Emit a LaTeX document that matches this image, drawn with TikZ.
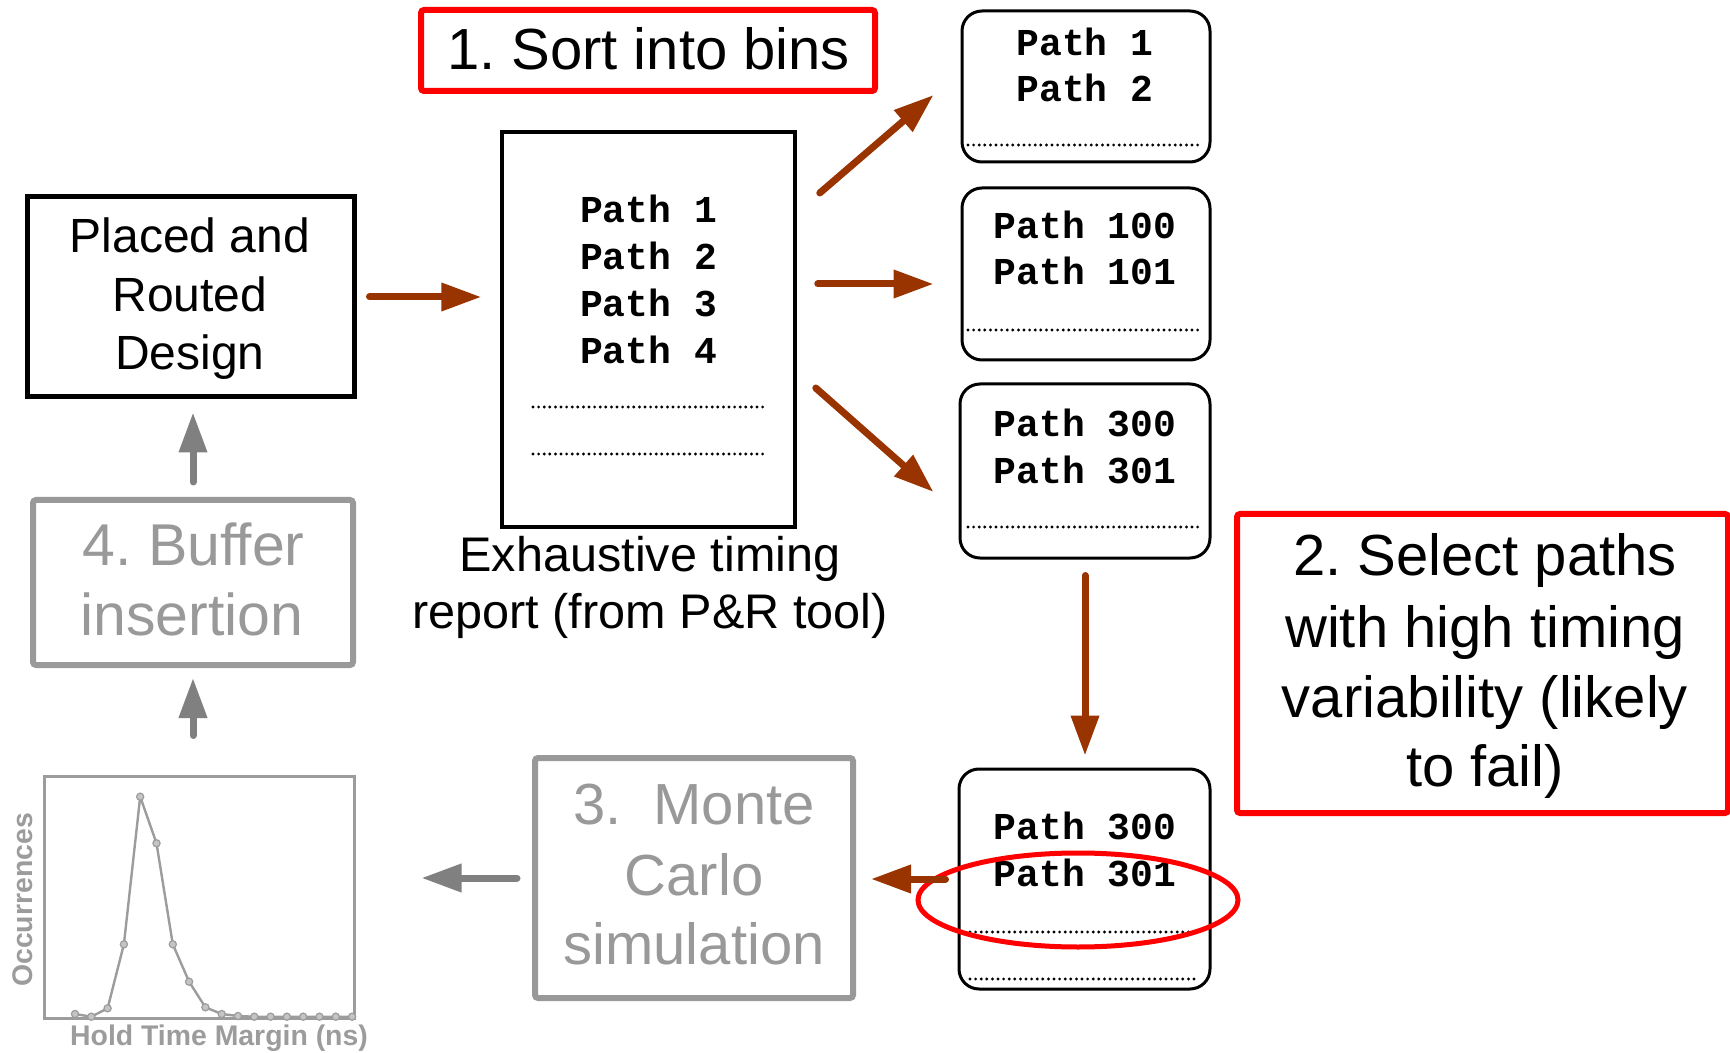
\documentclass[tikz,border=0pt]{standalone}
\usepackage{fontspec}
\setmainfont{Liberation Sans}
\setmonofont{Liberation Mono}
\usetikzlibrary{arrows.meta,shapes.geometric}
\definecolor{brn}{HTML}{993300}
\definecolor{rd}{HTML}{FF0000}
\definecolor{gbox}{HTML}{999999}
\definecolor{garr}{HTML}{808080}
\definecolor{gch}{HTML}{9C9C9C}
\frenchspacing
\begin{document}
\begin{tikzpicture}[x=0.5pt,y=-0.5pt,
  txt/.style={inner sep=0pt, anchor=base},
  bigf/.style={font=\fontsize{29}{29}\selectfont},
  midf/.style={font=\fontsize{24}{24}\selectfont},
  capf/.style={font=\fontsize{24.3}{24.3}\selectfont},
  monof/.style={font=\fontsize{19}{19}\selectfont\ttfamily\bfseries},
  chf/.style={font=\fontsize{14.2}{14.2}\selectfont\bfseries, text=gch},
  boxbase/.style={rectangle, inner sep=0pt},
  blkbox/.style={boxbase, draw=black, line width=2.5pt},
  repbox/.style={boxbase, draw=black, line width=1.75pt},
  binbox/.style={boxbase, draw=black, line width=1.5pt, rounded corners=10pt},
  redbox/.style={boxbase, draw=rd, line width=3pt, rounded corners=1.5pt},
  graybox/.style={boxbase, draw=gbox, line width=3pt, rounded corners=1.5pt},
  brarr/.style={draw=brn, line width=3.5pt, line cap=round, -{Triangle[length=20pt,width=13.5pt]}},
  grarr/.style={draw=garr, line width=3.5pt, line cap=round, -{Triangle[length=20pt,width=13.5pt]}},
  dotline/.style={line width=1.6pt, line cap=round, dash pattern=on 0pt off 2.8pt},
]
\useasboundingbox[fill=white] (0,0) rectangle (1730,1053);

% ---------- boxes ----------
\node[redbox, minimum width=227pt, minimum height=40.5pt] (title) at (648,50.5) {};
\node[blkbox, minimum width=163.5pt, minimum height=100pt] (pr) at (190.5,297) {};
\node[graybox, minimum width=160pt, minimum height=82.5pt] (buf) at (193,582.5) {};
\node[repbox, minimum width=146.5pt, minimum height=197.5pt] (rep) at (648.5,329.5) {};
\node[binbox, minimum width=124pt, minimum height=75.5pt] (bin1) at (1086,86.5) {};
\node[binbox, minimum width=124pt, minimum height=86pt] (bin2) at (1086,274) {};
\node[binbox, minimum width=125pt, minimum height=87pt] (bin3) at (1085,471) {};
\node[binbox, minimum width=125.5pt, minimum height=110pt] (bin4) at (1084.5,879) {};
\node[redbox, minimum width=245.5pt, minimum height=149.5pt] (sel) at (1482.5,663.5) {};
\node[graybox, minimum width=159pt, minimum height=120pt] (mc) at (694,878) {};
\node[boxbase, draw=gch, line width=1.5pt, minimum width=155pt, minimum height=121pt] (chart) at (199,897) {};

% ---------- texts ----------
\node[txt, bigf] (titlet) at (648.5,70) {1. Sort into bins};

\node[txt, midf] (pr1) at (190,252.7) {Placed and};
\node[txt, midf] (pr2) at (190,311.7) {Routed};
\node[txt, midf] (pr3) at (190,370) {Design};

\node[txt, font=\fontsize{29.5}{29.5}\selectfont, text=gbox] (buf1) at (193.5,566) {4. Buffer};
\node[txt, font=\fontsize{29.5}{29.5}\selectfont, text=gbox] (buf2) at (192,635) {insertion};

\node[txt, monof] (rp1) at (648.5,223) {Path 1};
\node[txt, monof] (rp2) at (648.5,270) {Path 2};
\node[txt, monof] (rp3) at (648.5,317) {Path 3};
\node[txt, monof] (rp4) at (648.5,364) {Path 4};
\draw[dotline] (533,407) -- (765,407);
\draw[dotline] (533,454) -- (765,454);

\node[txt, capf] (cap1) at (650,571) {Exhaustive timing};
\node[txt, capf] (cap2) at (650,628) {report (from P\&R tool)};

\node[txt, monof] (b1a) at (1085,56) {Path 1};
\node[txt, monof] (b1b) at (1085,102) {Path 2};
\draw[dotline] (968,145) -- (1200,145);

\node[txt, monof] (b2a) at (1085,239) {Path 100};
\node[txt, monof] (b2b) at (1085,285) {Path 101};
\draw[dotline] (968,330) -- (1200,330);

\node[txt, monof] (b3a) at (1085,437) {Path 300};
\node[txt, monof] (b3b) at (1085,484) {Path 301};
\draw[dotline] (968,527) -- (1200,527);

\node[txt, monof] (b4a) at (1085,839) {Path 300};
\node[txt, monof] (b4b) at (1085,886) {Path 301};
\draw[dotline] (970,932) -- (1198,932);
\draw[dotline] (970,979) -- (1198,979);

\node[txt, bigf] (s1) at (1485,575) {2. Select paths};
\node[txt, bigf] (s2) at (1485,647) {with high timing};
\node[txt, bigf] (s3) at (1485,717) {variability (likely};
\node[txt, bigf] (s4) at (1485,786) {to fail)};

\node[txt, bigf, text=gbox] (mc1) at (694,824) {3.\ \ Monte};
\node[txt, bigf, text=gbox] (mc2) at (694,895) {Carlo};
\node[txt, bigf, text=gbox] (mc3) at (694,964) {simulation};

% ---------- red ellipse ----------
\node[ellipse, draw=rd, line width=2.5pt, minimum width=160pt, minimum height=47pt, inner sep=0pt] (ell) at (1078,900) {};

% ---------- chart ----------
\node[inner sep=0pt, chf, rotate=90] (ylab) at (23,900) {Occurrences};
\node[txt, chf] (xlab) at (219,1045) {Hold Time Margin (ns)};
\draw[gch, line width=1.2pt, line join=round]
  (75,1014) -- (91.3,1016.7) -- (107.6,1008.3) -- (123.9,944.3) -- (140.2,796.7)
  -- (156.5,843.3) -- (172.8,944.3) -- (189.1,981.7) -- (205.4,1007.3) -- (221.7,1014)
  -- (238,1016) -- (254.3,1016.7) -- (270.6,1016.7) -- (286.9,1016.7) -- (303.2,1016.7)
  -- (319.5,1016.7) -- (335.8,1016.7) -- (352.1,1016.7);
\foreach \px/\py in {75/1014, 91.3/1016.7, 107.6/1008.3, 123.9/944.3, 140.2/796.7,
  156.5/843.3, 172.8/944.3, 189.1/981.7, 205.4/1007.3, 221.7/1014, 238/1016,
  254.3/1016.7, 270.6/1016.7, 286.9/1016.7, 303.2/1016.7, 319.5/1016.7,
  335.8/1016.7, 352.1/1016.7}
  \filldraw[draw=gch, fill=gch!60, line width=0.6pt] (\px,\py) circle[radius=1.8pt];

% ---------- arrows ----------
\draw[brarr, shorten <=6.5pt, shorten >=9.5pt] (pr.east) -- (pr.east -| rep.west);
\draw[brarr] ([shift={(23,-136.5)}]rep.east) -- ([shift={(-27,8.5)}]bin1.west);
\draw[brarr] ([shift={(21,-45.5)}]rep.east) -- ([shift={(-27,10)}]bin2.west);
\draw[brarr] ([shift={(19,58.5)}]rep.east) -- ([shift={(-25,21)}]bin3.west);
\draw[brarr, shorten <=8pt, shorten >=6pt] (bin3.south) -- (bin3.south |- bin4.north);
\draw[brarr, shorten <=6pt, shorten >=7.5pt] (bin4.west) -- (bin4.west -| mc.east);
\draw[grarr, shorten <=7.5pt, shorten >=33pt] (mc.west) -- (mc.west -| chart.east);
\draw[grarr, shorten <=19.5pt, shorten >=5pt] (buf.south |- chart.north) -- (buf.south);
\draw[grarr, shorten <=7.5pt, shorten >=6.5pt] (buf.north) -- (buf.north |- pr.south);
\end{tikzpicture}
\end{document}
